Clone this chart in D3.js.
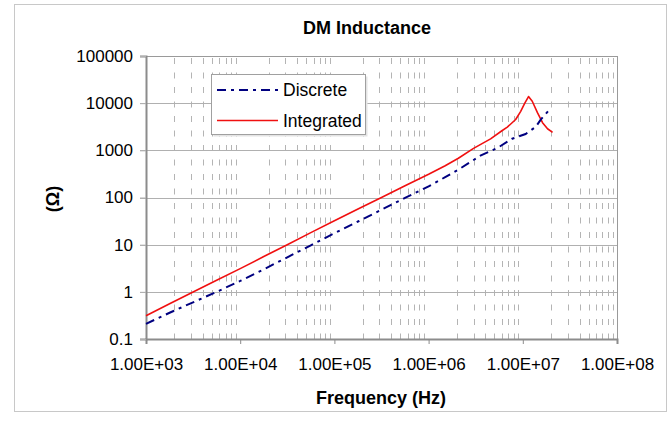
<!DOCTYPE html>
<html lang="en">
<head>
    <meta charset="UTF-8">
    <title>DM Inductance</title>
    <script src="https://d3js.org/d3.v7.min.js"></script>
    <style>
        body { margin: 0; background: #fff; }
        text { font-family: "Liberation Sans", Arial, sans-serif; fill: #000; }
        .title { font-size: 18px; font-weight: bold; }
        .tick-label { font-size: 17px; }
        .legend { font-size: 17.5px; }
    </style>
</head>
<body>
    <div id="chart"></div>
    <script>
        const width = 669;
        const height = 421;
        const marginTop = 56;
        const marginRight = 52;
        const marginBottom = 82;
        const marginLeft = 146;

        // data (frequency in Hz, impedance in ohm)
        const integratedFreq = [1e3, 1.78e3, 3.16e3, 5.62e3, 1e4, 1.78e4, 3.16e4, 5.62e4, 1e5, 1.78e5, 3.16e5, 5.62e5,
            1e6, 1.5e6, 2.07e6, 3e6, 4.55e6, 6e6, 6.85e6, 8.4e6, 9.5e6, 1.05e7, 1.15e7, 1.26e7, 1.43e7, 1.62e7, 1.83e7, 2.07e7];
        const integratedValues = [0.31, 0.56, 0.99, 1.76, 3.1, 5.6, 10, 18, 32, 57, 100, 178,
            310, 470, 680, 1100, 1750, 2600, 3100, 4500, 6700, 10000, 13800, 11000, 6300, 3850, 2870, 2400];

        const discreteFreq = [1e3, 1.78e3, 3.16e3, 5.62e3, 1e4, 1.78e4, 3.16e4, 5.62e4, 1e5, 1.78e5, 3.16e5, 5.62e5,
            1e6, 1.5e6, 2.2e6, 3.55e6, 5.37e6, 7.7e6, 1.07e7, 1.37e7, 1.55e7, 1.85e7];
        const discreteValues = [0.21, 0.36, 0.6, 1.0, 1.7, 3.0, 5.4, 9.7, 17.5, 31, 55, 98,
            172, 270, 420, 770, 1120, 1760, 2220, 3130, 4470, 6700];

        const xTicks = [1e3, 1e4, 1e5, 1e6, 1e7, 1e8];
        const xTickLabels = ["1.00E+03", "1.00E+04", "1.00E+05", "1.00E+06", "1.00E+07", "1.00E+08"];
        const yTicks = [0.1, 1, 10, 100, 1000, 10000, 100000];
        const yTickLabels = ["0.1", "1", "10", "100", "1000", "10000", "100000"];

        const seriesNames = ["Discrete", "Integrated"];

        const svg = d3.select("#chart")
            .append("svg")
            .attr("width", width)
            .attr("height", height)
            .attr("viewBox", [0, 0, width, height]);

        // outer chart border
        svg.append("rect")
            .attr("x", 14.5).attr("y", 4.5)
            .attr("width", 652).attr("height", 407)
            .attr("fill", "#fff")
            .attr("stroke", "#c8c8c8");

        const x = d3.scaleLog().domain([1e3, 1e8]).range([marginLeft, width - marginRight]);
        const y = d3.scaleLog().domain([0.1, 100000]).range([height - marginBottom, marginTop]);

        // minor vertical gridlines (2..9 of every decade), dashed
        const minor = [];
        xTicks.slice(0, -1).forEach(d => {
            for (let k = 2; k <= 9; k++) minor.push(d * k);
        });
        svg.append("g")
            .selectAll("line")
            .data(minor)
            .join("line")
            .attr("x1", d => Math.round(x(d)) + 0.5)
            .attr("x2", d => Math.round(x(d)) + 0.5)
            .attr("y1", marginTop + 2)
            .attr("y2", height - marginBottom)
            .attr("stroke", "#b4b4b4")
            .attr("stroke-dasharray", "6,8.5");

        // major horizontal gridlines
        svg.append("g")
            .selectAll("line")
            .data(yTicks)
            .join("line")
            .attr("x1", marginLeft - 6)
            .attr("x2", width - marginRight)
            .attr("y1", d => Math.round(y(d)) + 0.5)
            .attr("y2", d => Math.round(y(d)) + 0.5)
            .attr("stroke", "#b0b0b0");

        // plot frame
        svg.append("rect")
            .attr("x", marginLeft + 0.5).attr("y", marginTop + 0.5)
            .attr("width", width - marginLeft - marginRight)
            .attr("height", height - marginTop - marginBottom)
            .attr("fill", "none")
            .attr("stroke", "#9a9a9a");

        // axes
        svg.append("g")
            .attr("transform", `translate(0,${height - marginBottom})`)
            .call(d3.axisBottom(x).tickValues(xTicks).tickSize(5).tickPadding(14)
                .tickFormat((d, i) => xTickLabels[i]))
            .call(g => g.select(".domain").attr("stroke", "#8c8c8c").attr("stroke-width", 2))
            .call(g => g.selectAll(".tick line").attr("stroke", "#8c8c8c"))
            .call(g => g.selectAll(".tick text").attr("class", "tick-label").attr("font-size", null).attr("font-family", null));

        svg.append("g")
            .attr("transform", `translate(${marginLeft},0)`)
            .call(d3.axisLeft(y).tickValues(yTicks).tickSize(6).tickPadding(7)
                .tickFormat((d, i) => yTickLabels[i]))
            .call(g => g.select(".domain").attr("stroke", "#8c8c8c").attr("stroke-width", 2))
            .call(g => g.selectAll(".tick line").attr("stroke", "#b0b0b0"))
            .call(g => g.selectAll(".tick text").attr("class", "tick-label").attr("font-size", null).attr("font-family", null));

        svg.selectAll(".tick-label").attr("fill", "#000");

        // series
        const line = d3.line()
            .x(d => x(d[0]))
            .y(d => y(d[1]));

        svg.append("path")
            .datum(d3.zip(integratedFreq, integratedValues))
            .attr("fill", "none")
            .attr("stroke", "#f01010")
            .attr("stroke-width", 1.6)
            .attr("stroke-linejoin", "round")
            .attr("d", line);

        svg.append("path")
            .datum(d3.zip(discreteFreq, discreteValues))
            .attr("fill", "none")
            .attr("stroke", "#000080")
            .attr("stroke-width", 2)
            .attr("stroke-dasharray", "9,5,3,5")
            .attr("d", line);

        // titles
        svg.append("text")
            .attr("class", "title")
            .attr("x", 367).attr("y", 34)
            .attr("text-anchor", "middle")
            .text("DM Inductance");

        svg.append("text")
            .attr("class", "title")
            .attr("x", 381).attr("y", 404)
            .attr("text-anchor", "middle")
            .text("Frequency (Hz)");

        svg.append("text")
            .attr("class", "title")
            .attr("transform", "translate(59,199) rotate(-90)")
            .attr("text-anchor", "middle")
            .text("(Ω)");

        // legend
        const legend = svg.append("g");
        legend.append("rect")
            .attr("x", 213.5).attr("y", 76.5)
            .attr("width", 154).attr("height", 60)
            .attr("fill", "#e4e4e4");
        legend.append("rect")
            .attr("x", 211.5).attr("y", 74.5)
            .attr("width", 154).attr("height", 60)
            .attr("fill", "#fff")
            .attr("stroke", "#a0a0a0");

        const legendStyles = [
            { color: "#000080", dash: "9,5,3,5", width: 2 },
            { color: "#f01010", dash: null, width: 1.6 }
        ];
        seriesNames.forEach((name, i) => {
            const yy = 90 + i * 30.5;
            legend.append("line")
                .attr("x1", 217).attr("x2", 278)
                .attr("y1", yy).attr("y2", yy)
                .attr("stroke", legendStyles[i].color)
                .attr("stroke-width", legendStyles[i].width)
                .attr("stroke-dasharray", legendStyles[i].dash);
            legend.append("text")
                .attr("class", "legend")
                .attr("x", 283)
                .attr("y", yy + 6)
                .text(name);
        });
    </script>
</body>
</html>
